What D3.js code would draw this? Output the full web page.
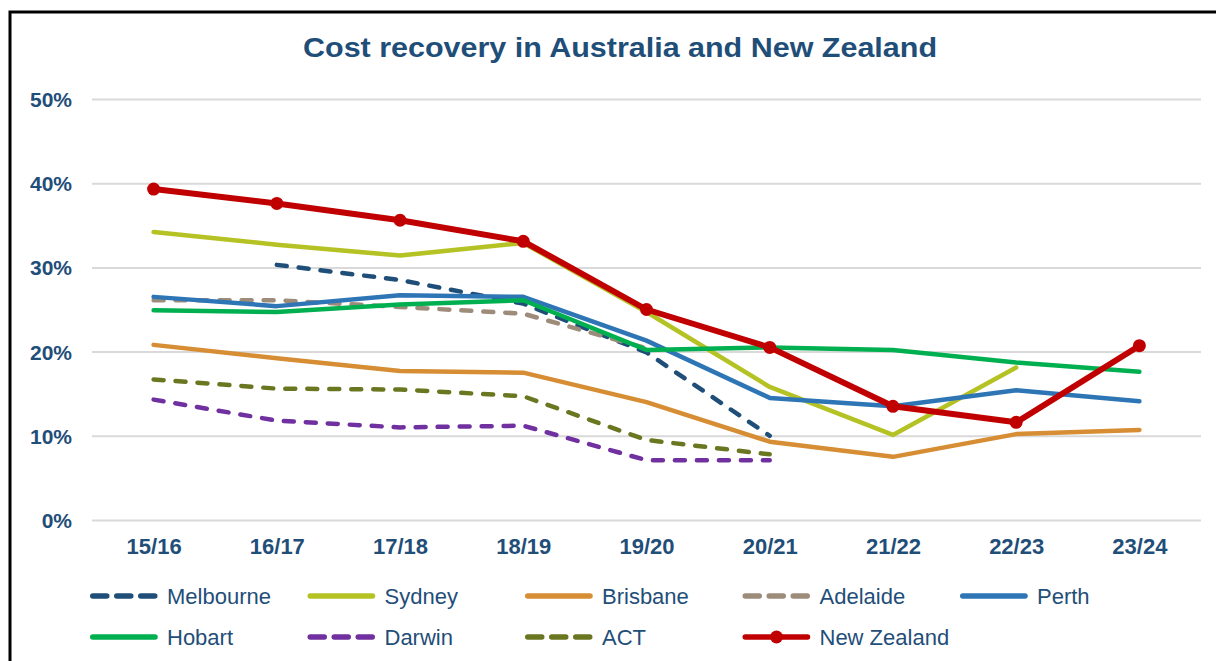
<!DOCTYPE html>
<html>
<head>
<meta charset="utf-8">
<script src="https://cdn.jsdelivr.net/npm/d3@7"></script>
<style>
  body { margin: 0; background: #fff; }
  svg { display: block; font-family: "Liberation Sans", Arial, sans-serif; }
</style>
</head>
<body>
<svg id="chart" width="1216" height="661"></svg>
<script>
// chart data
const years = ['15/16', '16/17', '17/18', '18/19', '19/20', '20/21', '21/22', '22/23', '23/24'];
const yTicks = [0, 0.1, 0.2, 0.3, 0.4, 0.5];

const melbourne = [null, 30.3, 28.5, 25.7, 19.9, 10.0, null, null, null];
const sydney = [34.2, 32.7, 31.4, 32.9, 24.7, 15.8, 10.1, 18.1, null];
const brisbane = [20.8, 19.2, 17.7, 17.5, 14.0, 9.3, 7.5, 10.2, 10.7];
const adelaide = [26.1, 26.1, 25.3, 24.5, 20.4, null, null, null, null];
const perth = [26.5, 25.4, 26.7, 26.5, 21.3, 14.5, 13.5, 15.4, 14.1];
const hobart = [24.9, 24.7, 25.6, 26.1, 20.2, 20.5, 20.2, 18.7, 17.6];
const darwin = [14.3, 11.8, 11.0, 11.2, 7.1, 7.1, null, null, null];
const act = [16.7, 15.6, 15.5, 14.7, 9.5, 7.8, null, null, null];
const newZealand = [39.3, 37.6, 35.6, 33.1, 25.0, 20.5, 13.5, 11.6, 20.7];

const seriesNames = ['Melbourne', 'Sydney', 'Brisbane', 'Adelaide', 'Perth', 'Hobart', 'Darwin', 'ACT', 'New Zealand'];
const seriesValues = [melbourne, sydney, brisbane, adelaide, perth, hobart, darwin, act, newZealand];
const seriesColors = ['#1f4e79', '#b5c224', '#d68d33', '#9e8c7a', '#2e75b6', '#00b050', '#7030a0', '#6b7720', '#c00000'];
const seriesDashed = [true, false, false, true, false, false, true, true, false];

const textColor = '#1f4e79';

const svg = d3.select('#chart');

// frame
svg.append('rect')
  .attr('x', 10)
  .attr('y', 12)
  .attr('width', 1240)
  .attr('height', 700)
  .attr('fill', 'none')
  .attr('stroke', '#000')
  .attr('stroke-width', 3);

svg.append('text')
  .attr('x', 620)
  .attr('y', 57)
  .attr('text-anchor', 'middle')
  .attr('fill', textColor)
  .attr('font-size', 28)
  .attr('font-weight', 'bold')
  .attr('textLength', 634)
  .attr('lengthAdjust', 'spacingAndGlyphs')
  .text('Cost recovery in Australia and New Zealand');

const x = d3.scalePoint().domain(years).range([92, 1201]).padding(0.5);
const y = d3.scaleLinear().domain([0, 0.5]).range([520, 99]);

// gridlines + y labels
const yAxis = d3.axisLeft(y)
  .tickValues(yTicks)
  .tickSize(-(1201 - 92))
  .tickPadding(20)
  .tickFormat(d3.format('.0%'));

const gy = svg.append('g')
  .attr('transform', 'translate(92,0)')
  .call(yAxis);
gy.select('.domain').remove();
gy.selectAll('.tick line').attr('stroke', '#d9d9d9').attr('stroke-width', 2);
gy.selectAll('.tick text')
  .attr('fill', textColor)
  .attr('font-size', 21)
  .attr('font-weight', 'bold')
  .attr('font-family', '"Liberation Sans", Arial, sans-serif')
  .attr('dy', '0.36em');

// x labels
const xAxis = d3.axisBottom(x).tickSize(0).tickPadding(18);
const gx = svg.append('g')
  .attr('transform', 'translate(0,520)')
  .call(xAxis);
gx.select('.domain').remove();
gx.selectAll('.tick text')
  .attr('fill', textColor)
  .attr('font-size', 22)
  .attr('font-weight', 'bold')
  .attr('font-family', '"Liberation Sans", Arial, sans-serif');

// lines
const line = d3.line()
  .defined(d => d.v != null)
  .x(d => x(d.year))
  .y(d => y(d.v / 100));

const plot = svg.append('g');
seriesNames.forEach((name, i) => {
  const pts = years.map((yr, j) => ({ year: yr, v: seriesValues[i][j] }));
  const isNZ = name === 'New Zealand';
  plot.append('path')
    .datum(pts)
    .attr('d', line)
    .attr('fill', 'none')
    .attr('stroke', seriesColors[i])
    .attr('stroke-width', isNZ ? 6 : 4.5)
    .attr('stroke-linejoin', 'round')
    .attr('stroke-linecap', 'round')
    .attr('stroke-dasharray', seriesDashed[i] ? '10,12' : null);
  if (isNZ) {
    plot.selectAll('.nz-dot')
      .data(pts.filter(d => d.v != null))
      .enter()
      .append('circle')
      .attr('class', 'nz-dot')
      .attr('cx', d => x(d.year))
      .attr('cy', d => y(d.v / 100))
      .attr('r', 6.5)
      .attr('fill', seriesColors[i]);
  }
});

// legend
const legend = svg.append('g');
const colW = 217.5;
seriesNames.forEach((name, i) => {
  const col = i % 5;
  const row = Math.floor(i / 5);
  const g = legend.append('g')
    .attr('transform', `translate(${90 + col * colW},${596 + row * 41})`);
  g.append('line')
    .attr('x1', 2.75)
    .attr('x2', 65)
    .attr('stroke', seriesColors[i])
    .attr('stroke-width', 5.5)
    .attr('stroke-linecap', 'round')
    .attr('stroke-dasharray', seriesDashed[i] ? '14,10' : null);
  if (name === 'New Zealand') {
    g.append('circle').attr('cx', 34).attr('r', 6.5).attr('fill', seriesColors[i]);
  }
  g.append('text')
    .attr('x', 77)
    .attr('y', 8)
    .attr('fill', textColor)
    .attr('font-size', 22)
    .text(name);
});
</script>
</body>
</html>
